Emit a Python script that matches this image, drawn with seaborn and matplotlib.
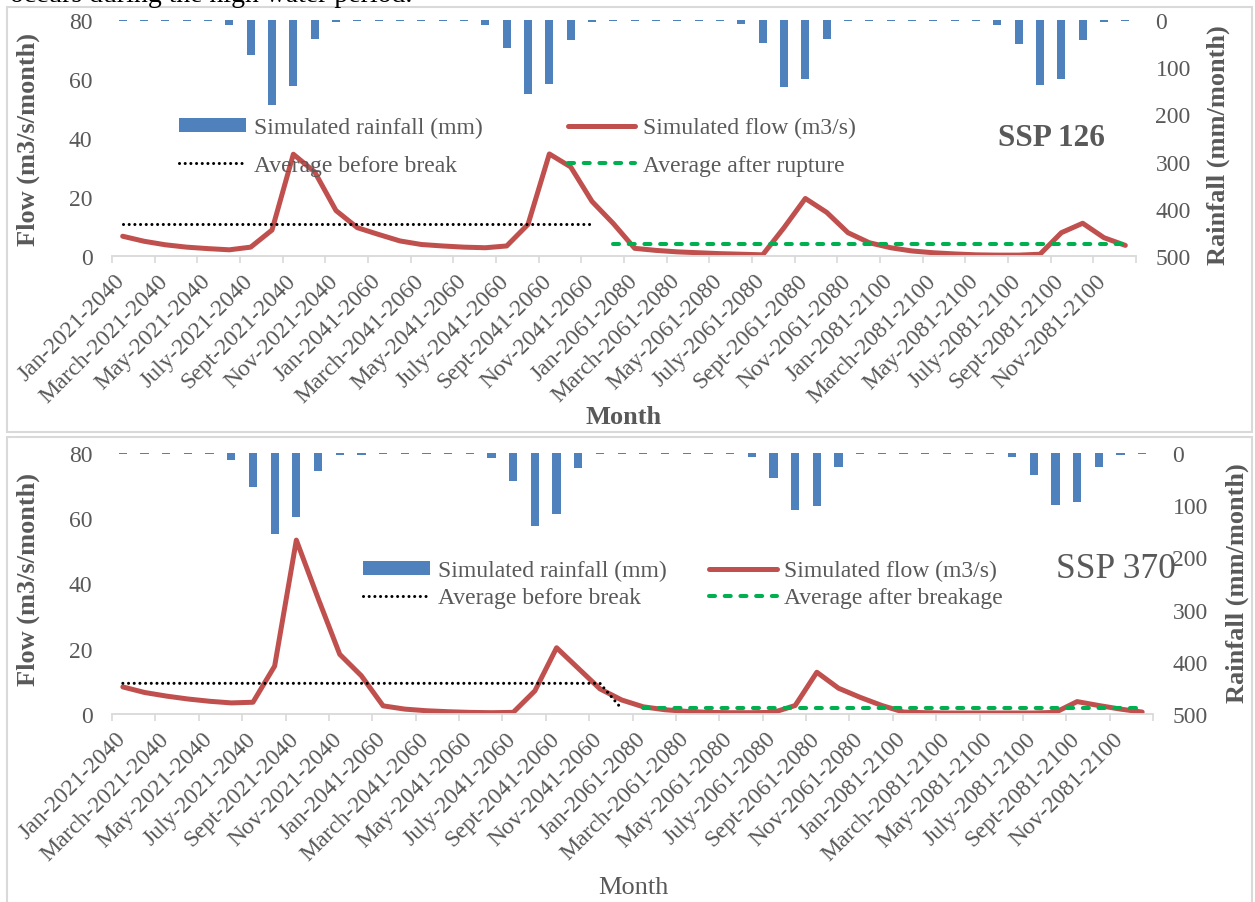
"""Simulated flow / rainfall, SSP 126 and SSP 370 — seaborn recreation."""
import matplotlib
matplotlib.use("Agg")
import matplotlib.pyplot as plt
from matplotlib.patches import Rectangle
from matplotlib.ticker import FixedLocator
from matplotlib.transforms import ScaledTranslation
import numpy as np
import pandas as pd
import seaborn as sns

sns.set_theme(style="white")
plt.rcParams["font.family"] = ["Liberation Serif", "DejaVu Serif"]

BLUE, RED, GREEN, GREY, LINE = "#4F81BD", "#C0504D", "#00B050", "#595959", "#D9D9D9"
W, H = 1255, 903

# ---- data -------------------------------------------------------------
PERIODS = ["2021-2040", "2041-2060", "2061-2080", "2081-2100"]
TICK_MONTHS = ["Jan", "March", "May", "July", "Sept", "Nov"]

rain_126 = [1.5, 1.5, 1.5, 1.5, 1.5, 11, 75, 180, 140, 41, 3.5, 1.5,
            1.5, 1.5, 1.5, 1.5, 1.5, 10, 60, 156, 135, 42, 3.5, 1.5,
            1.5, 1.5, 1.5, 1.5, 1.5, 8, 48, 143, 125, 40, 3, 1.5,
            1.5, 1.5, 1.5, 1.5, 1.5, 10, 51, 137, 124, 43, 4, 1.5]
flow_126 = [6.7, 5.0, 3.8, 3.0, 2.5, 2.1, 3.0, 8.8, 34.5, 28.5, 15.4, 9.6,
            7.3, 5.1, 3.9, 3.4, 3.0, 2.8, 3.4, 10.7, 34.6, 30.2, 18.5, 11.0,
            2.6, 1.9, 1.4, 1.1, 0.8, 0.6, 0.4, 9.6, 19.5, 14.8, 7.9, 4.5,
            2.8, 1.7, 1.1, 0.7, 0.4, 0.3, 0.3, 0.6, 7.9, 11.1, 6.2, 3.6]
avg_before_126 = 10.8   # months 0..22
avg_after_126 = 4.2     # months 23..47

rain_370 = [1.5, 1.5, 1.5, 1.5, 1.5, 14, 65, 156, 122, 34, 4, 3,
            1.5, 1.5, 1.5, 1.5, 1.5, 9.5, 53, 140, 116, 29, 2.5, 1.5,
            1.5, 1.5, 1.5, 1.5, 1.5, 8, 48, 110, 102, 27, 2.5, 1.5,
            1.5, 1.5, 1.5, 1.5, 1.5, 8, 43, 99, 93, 26, 3, 2]
flow_370 = [8.3, 6.6, 5.5, 4.6, 3.9, 3.4, 3.6, 14.7, 53.3, 35.5, 18.3, 11.7,
            2.5, 1.5, 1.0, 0.7, 0.5, 0.4, 0.5, 7.1, 20.3, 14.0, 7.7, 4.3,
            2.2, 1.3, 0.8, 0.5, 0.4, 0.4, 0.5, 2.6, 12.8, 7.9, 5.1, 2.6,
            0.6, 0.4, 0.3, 0.3, 0.3, 0.3, 0.3, 0.5, 3.8, 2.6, 1.5, 0.6]
avg_before_370 = 9.4    # months 0..22
before_tail_370 = 1.6   # month 23
avg_after_370 = 1.85    # months 24..47

tick_labels = [f"{m}-{p}" for p in PERIODS for m in TICK_MONTHS]


def px(x, y):
    return x / W, 1 - y / H


def panel(rect, rain, flow, before, after, after_label,
          leg_xy, leg_spacing, col_spacing):
    ax = fig.add_axes(rect)
    ax2 = ax.twinx()
    n = len(flow)
    df = pd.DataFrame({"m": np.arange(n), "rain": rain, "flow": flow,
                       "before": before, "after": after})

    sns.barplot(data=df, x="m", y="rain", ax=ax2, color=BLUE, saturation=1,
                width=0.38, linewidth=0, label="Simulated rainfall (mm)")
    sns.lineplot(data=df, x="m", y="flow", ax=ax, color=RED, lw=3.6,
                 solid_joinstyle="round", solid_capstyle="round",
                 label="Simulated flow (m3/s)")
    d = df.dropna(subset=["before"])
    sns.lineplot(data=d, x="m", y="before", ax=ax, color="black", lw=2.2,
                 linestyle=(0, (0.01, 1.85)), dash_capstyle="round",
                 label="Average before break")
    d = df.dropna(subset=["after"])
    sns.lineplot(data=d, x="m", y="after", ax=ax, color=GREEN, lw=2.9,
                 linestyle=(0, (1.5, 2.4)), dash_capstyle="round",
                 label=after_label)

    ax.set_zorder(ax2.get_zorder() + 1)
    ax.patch.set_visible(False)
    for a in (ax, ax2):
        if a.get_legend():
            a.get_legend().remove()
        a.set_xlabel("")
        a.set_ylabel("")
        a.grid(False)

    ax.set_xlim(-0.5, n - 0.5)
    ax.set_ylim(0, 80)
    ax.set_yticks(range(0, 81, 20))
    ax2.set_ylim(500, 0)
    ax2.set_yticks(range(0, 501, 100))

    ax.set_xticks(range(0, n, 2))
    ax.set_xticklabels(tick_labels, rotation=45, ha="right",
                       rotation_mode="anchor")
    ax.xaxis.set_minor_locator(FixedLocator(np.arange(-0.5, n, 2)))
    ax.tick_params(axis="x", which="major", length=0, pad=10,
                   labelsize=17, labelcolor=GREY)
    ax.tick_params(axis="x", which="minor", length=5, width=1.2,
                   color=LINE, direction="out", bottom=True)
    ax.tick_params(axis="y", length=0, pad=14, labelsize=17, labelcolor=GREY)
    ax2.tick_params(axis="y", length=0, pad=14, labelsize=17, labelcolor=GREY)
    # nudge the slanted month labels a little to the left
    shift = ScaledTranslation(-8 / 100, 0, fig.dpi_scale_trans)
    for lab in ax.get_xticklabels():
        lab.set_transform(lab.get_transform() + shift)

    for s in ("top", "left", "right"):
        ax.spines[s].set_visible(False)
    ax.spines["bottom"].set_color(LINE)
    ax.spines["bottom"].set_linewidth(1.3)
    for s in ax2.spines.values():
        s.set_visible(False)

    h2, l2 = ax2.get_legend_handles_labels()
    h1, l1 = ax.get_legend_handles_labels()
    handles = [h2[0], h1[1], h1[0], h1[2]]
    labels = [l2[0], l1[1], l1[0], l1[2]]
    fig.legend(handles, labels, loc="upper left", bbox_to_anchor=px(*leg_xy),
               ncol=2, frameon=False, fontsize=17, labelcolor=GREY,
               borderpad=0, borderaxespad=0, handlelength=2.85,
               handleheight=0.5, handletextpad=0.33,
               labelspacing=leg_spacing, columnspacing=col_spacing)
    return ax, ax2


fig = plt.figure(figsize=(W / 100, H / 100), dpi=100)

# frames of the two chart boxes
for y0, y1 in ((8, 433), (438, 910)):
    fig.add_artist(Rectangle(px(7, y1), (1252 - 7) / W, (y1 - y0) / H,
                             transform=fig.transFigure, fill=False,
                             edgecolor=LINE, lw=1.5))

fig.text(10 / W, 1 - 1.5 / H, "occurs during the high water period.",
         fontsize=20, va="baseline", ha="left", color="black")

# --- top: SSP 126
n = len(flow_126)
before = [avg_before_126 if i <= 22 else np.nan for i in range(n)]
after = [avg_after_126 if i >= 23 else np.nan for i in range(n)]
panel([112 / W, 1 - 257 / H, (1136 - 112) / W, (257 - 21) / H],
      rain_126, flow_126, before, after, "Average after rupture",
      (179, 118), 0.7, 3.6)
fig.text(*px(1051, 138), "SSP 126", fontsize=22.5, fontweight="bold",
         color=GREY, ha="center", va="center")
fig.text(*px(28, 140), "Flow (m3/s/month)", fontsize=19, fontweight="bold",
         color=GREY, rotation=90, ha="center", va="center")
fig.text(*px(1218, 145), "Rainfall (mm/month)", fontsize=19,
         fontweight="bold", color=GREY, rotation=90, ha="center", va="center")
fig.text(*px(624, 417), "Month", fontsize=19, fontweight="bold",
         color=GREY, ha="center", va="center")

# --- bottom: SSP 370
n = len(flow_370)
before = [avg_before_370 if i <= 22 else (before_tail_370 if i == 23 else np.nan)
          for i in range(n)]
after = [avg_after_370 if i >= 24 else np.nan for i in range(n)]
panel([112 / W, 1 - 715 / H, (1153 - 112) / W, (715 - 454) / H],
      rain_370, flow_370, before, after, "Average after breakage",
      (363, 561), 0.25, 1.8)
fig.text(*px(1116, 570), "SSP 370", fontsize=25.5, color=GREY,
         ha="center", va="center")
fig.text(*px(28, 580), "Flow (m3/s/month)", fontsize=19, fontweight="bold",
         color=GREY, rotation=90, ha="center", va="center")
fig.text(*px(1237, 583), "Rainfall (mm/month)", fontsize=19,
         fontweight="bold", color=GREY, rotation=90, ha="center", va="center")
fig.text(*px(633, 888), "Month", fontsize=19, color=GREY,
         ha="center", va="center")

fig.savefig("out.png", dpi=100)
